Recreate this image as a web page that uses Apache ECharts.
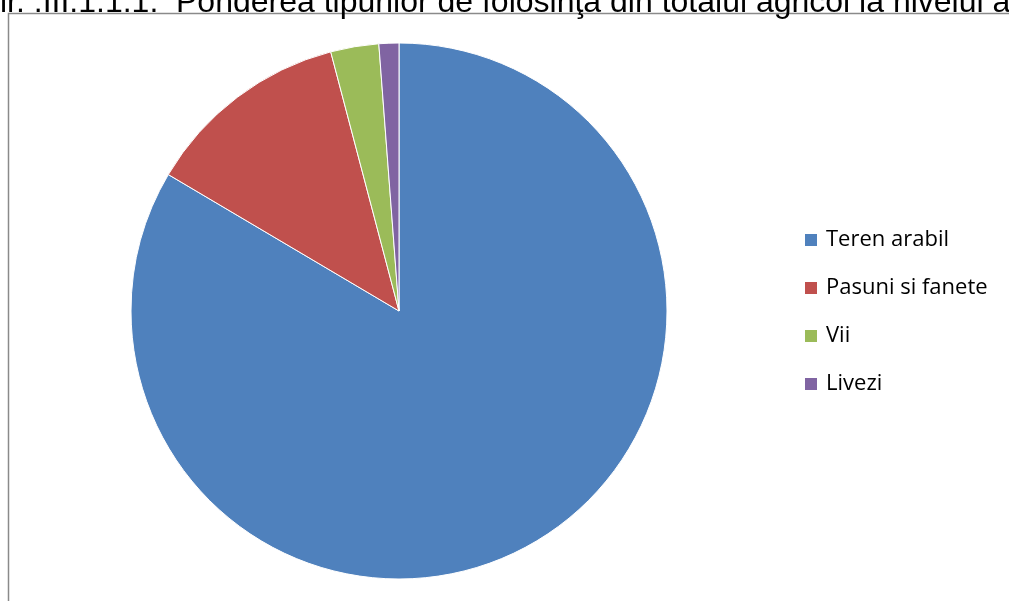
<!DOCTYPE html>
<html>
<head>
<meta charset="utf-8">
<script src="https://cdn.jsdelivr.net/npm/echarts@6/dist/echarts.min.js"></script>
<style>
  html, body { margin: 0; padding: 0; background: #fff; }
  #chart { width: 1009px; height: 601px; }
</style>
</head>
<body>
<div id="chart"></div>
<script>
// Land use categories and their share of agricultural area (%)
const categories = ['Teren arabil', 'Pasuni si fanete', 'Vii', 'Livezi'];
const shares = [83.5, 12.4, 2.9, 1.2];
const colors = ['#4f81bd', '#c0504d', '#9bbb59', '#8064a2'];
const titleNumber = 'ir. .III.1.1.1.';
const titleText = 'Ponderea tipurilor de folosinţa din totalul agricol la nivelul a';

const chart = echarts.init(document.getElementById('chart'), null, { renderer: 'canvas' });

const titleFont = '32px "Liberation Sans", Arial, sans-serif';

chart.setOption({
  animation: false,
  backgroundColor: '#fff',
  color: colors,
  graphic: [
    {
      type: 'rect',
      shape: { x: 8.5, y: 13.5, width: 1100, height: 700 },
      style: { fill: 'none', stroke: '#8a8a8a', lineWidth: 1.5 },
      silent: true
    },
    {
      type: 'text',
      x: 0,
      y: 19,
      style: { text: titleNumber, font: titleFont, fill: '#000', textVerticalAlign: 'bottom' },
      silent: true
    },
    {
      type: 'text',
      x: 176,
      y: 19,
      style: { text: titleText, font: titleFont, fill: '#000', textVerticalAlign: 'bottom' },
      silent: true
    }
  ],
  legend: {
    orient: 'vertical',
    left: 803,
    top: 229,
    padding: 0,
    itemWidth: 14,
    itemHeight: 14,
    itemGap: 26,
    icon: 'rect',
    textStyle: {
      fontFamily: '"Open Sans", sans-serif',
      fontSize: 22,
      lineHeight: 22,
      color: '#000',
      padding: [0, 0, 0, 3]
    },
    data: categories
  },
  series: [{
    type: 'pie',
    center: [399, 311],
    radius: 268,
    startAngle: 90,
    clockwise: true,
    label: { show: false },
    labelLine: { show: false },
    itemStyle: { borderColor: '#fff', borderWidth: 1 },
    emphasis: { disabled: true },
    data: categories.map((name, i) => ({ name, value: shares[i] }))
  }]
});
</script>
</body>
</html>
